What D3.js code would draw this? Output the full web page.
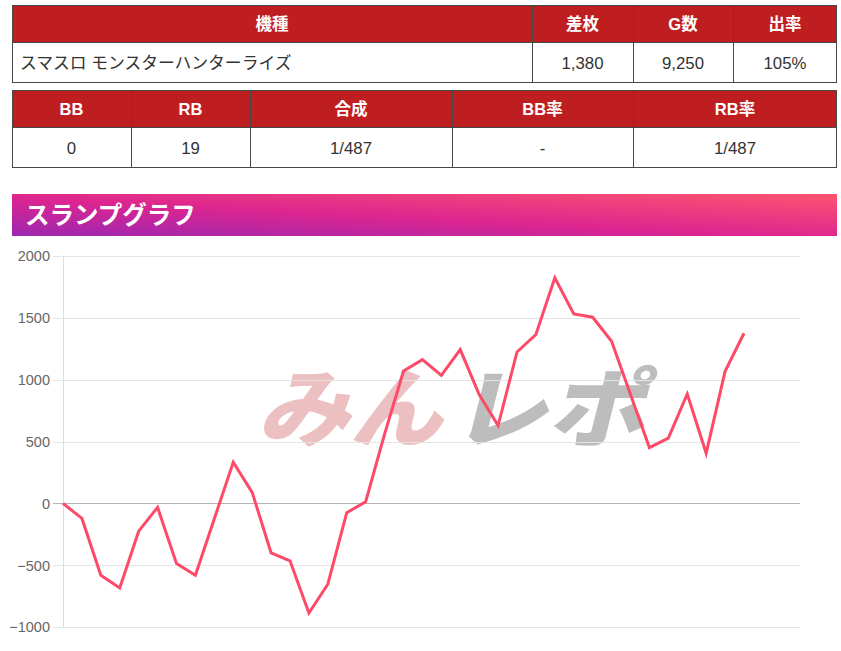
<!DOCTYPE html>
<html><head><meta charset="utf-8">
<script src="https://cdn.jsdelivr.net/npm/d3@7/dist/d3.min.js"></script>
<style>
body{margin:0;background:#fff;}
svg{display:block;}
</style></head>
<body>
<svg id="c" width="841" height="651"></svg>
<script>
// ---- data ----
const table1Headers = ["機種", "差枚", "G数", "出率"];
const table1Values = ["スマスロ モンスターハンターライズ", "1,380", "9,250", "105%"];
const table2Headers = ["BB", "RB", "合成", "BB率", "RB率"];
const table2Values = ["0", "19", "1/487", "-", "1/487"];
const chartTitle = "スランプグラフ";
const yTicks = [-1000, -500, 0, 500, 1000, 1500, 2000];
const slumpValues = [0, -122, -581, -684, -225, -33, -487, -581, -125, 332, 89, -400, -465, -887, -654, -76, 13, 560, 1070, 1162, 1035, 1243, 880, 629, 1224, 1365, 1824, 1532, 1505, 1310, 880, 451, 527, 884, 405, 1067, 1375];

(function () {
const svg = d3.select("#c");
const FONT = "'Liberation Sans', Arial, 'Noto Sans CJK JP', sans-serif";
const RED = "#bf1e21";
const BORDER = "#474747";

function drawTable(x0, x1, t0, headH, bodyH, cols, headers, values, firstLeft) {
  const g = svg.append("g");
  const edges = [x0, ...cols, x1];
  g.append("rect").attr("x", x0).attr("y", t0).attr("width", x1 - x0).attr("height", headH).attr("fill", RED);
  g.append("rect").attr("x", x0).attr("y", t0 + headH).attr("width", x1 - x0).attr("height", bodyH).attr("fill", "#fff");
  g.append("rect").attr("x", x0 + 0.5).attr("y", t0 + 0.5).attr("width", x1 - x0 - 1).attr("height", headH + bodyH - 1)
    .attr("fill", "none").attr("stroke", BORDER).attr("stroke-width", 1);
  g.append("line").attr("x1", x0).attr("x2", x1).attr("y1", t0 + headH + 0.5).attr("y2", t0 + headH + 0.5).attr("stroke", BORDER);
  cols.forEach(c => g.append("line").attr("x1", c + 0.5).attr("x2", c + 0.5).attr("y1", t0).attr("y2", t0 + headH + bodyH).attr("stroke", BORDER));
  headers.forEach((h, i) => {
    g.append("text").attr("x", (edges[i] + edges[i + 1]) / 2).attr("y", t0 + headH / 2 + 6)
      .attr("text-anchor", "middle").attr("fill", "#fff").attr("font-weight", "bold").attr("font-size", 16.5)
      .attr("font-family", FONT).text(h);
  });
  values.forEach((v, i) => {
    const isLeft = firstLeft && i === 0;
    g.append("text").attr("x", isLeft ? edges[i] + 8 : (edges[i] + edges[i + 1]) / 2).attr("y", t0 + headH + bodyH / 2 + 6)
      .attr("text-anchor", isLeft ? "start" : "middle").attr("fill", "#333").attr("font-size", 16.8)
      .attr("font-family", FONT).text(v);
  });
}

drawTable(12, 837, 5, 37, 41, [532, 633, 733], table1Headers, table1Values, true);
drawTable(12, 837, 90, 37, 41, [131, 250, 452, 633], table2Headers, table2Values, false);

// ---- banner ----
const defs = svg.append("defs");
const grad = defs.append("linearGradient").attr("id", "bn").attr("x1", "0").attr("y1", "1").attr("x2", "1").attr("y2", "0");
grad.append("stop").attr("offset", "0").attr("stop-color", "#9c27b0");
grad.append("stop").attr("offset", "0.45").attr("stop-color", "#dc2590");
grad.append("stop").attr("offset", "1").attr("stop-color", "#ff5470");
svg.append("rect").attr("x", 12).attr("y", 194).attr("width", 825).attr("height", 42).attr("fill", "url(#bn)");
svg.append("text").attr("x", 25).attr("y", 224).attr("fill", "#fff").attr("font-weight", "bold")
  .attr("font-size", 24.5).attr("font-family", "'Noto Sans CJK JP', sans-serif").text(chartTitle);

// ---- chart ----
const pL = 63, pR = 800, pT = 256, pB = 627;
const x = d3.scaleLinear().domain([0, slumpValues.length - 1]).range([pL, 744]);
const y = d3.scaleLinear().domain([-1000, 2000]).range([pB, pT]);

// watermark
const wm = svg.append("g");
wm.append("text").attr("x", 262).attr("y", 440).attr("font-size", 86).attr("font-weight", 900)
  .attr("font-family", "'Noto Sans CJK JP', sans-serif").attr("fill", "#ecbfc0")
  .attr("transform", "skewX(-14) translate(105,0)").attr("textLength", 185).attr("lengthAdjust", "spacingAndGlyphs").text("みん");
wm.append("text").attr("x", 455).attr("y", 440).attr("font-size", 86).attr("font-weight", 900)
  .attr("font-family", "'Noto Sans CJK JP', sans-serif").attr("fill", "#bdbdbd")
  .attr("transform", "skewX(-14) translate(105,0)").attr("textLength", 195).attr("lengthAdjust", "spacingAndGlyphs").text("レポ");

// grid
const grid = svg.append("g");
yTicks.forEach(t => {
  grid.append("line").attr("x1", 53).attr("x2", pR).attr("y1", Math.round(y(t)) + 0.5).attr("y2", Math.round(y(t)) + 0.5)
    .attr("stroke", t === 0 ? "#b5b5b5" : "#e4e4e4").attr("stroke-width", 1);
});
grid.append("line").attr("x1", pL + 0.5).attr("x2", pL + 0.5).attr("y1", pT).attr("y2", pB)
  .attr("stroke", "#dddddd");

const yAxis = d3.axisLeft(y).tickValues(yTicks).tickSize(0).tickPadding(0).tickFormat(d3.format("d"));
const ag = svg.append("g").attr("transform", "translate(50,0)").call(yAxis);
ag.select(".domain").remove();
ag.selectAll("text").attr("font-size", 14.5).attr("font-family", FONT).attr("fill", "#666").attr("dy", "0.34em");

// line
const line = d3.line().x((d, i) => x(i)).y(d => y(d));
svg.append("path").datum(slumpValues).attr("d", line).attr("fill", "none")
  .attr("stroke", "#fd4a68").attr("stroke-width", 3).attr("stroke-linejoin", "miter").attr("stroke-miterlimit", 10);
})();
</script>
</body></html>
